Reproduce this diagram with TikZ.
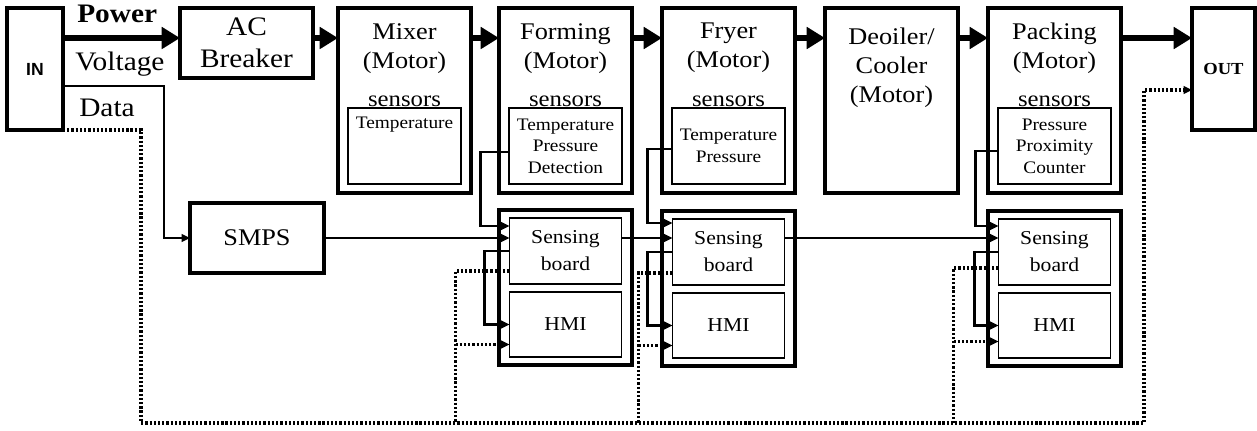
\documentclass[tikz,border=0pt]{standalone}
\usepackage{fontspec}
\setmainfont[FakeStretch=1.1]{Liberation Serif}
\newfontfamily\insans{Liberation Sans}
\usepackage{tikz}
\usetikzlibrary{arrows.meta,positioning,calc}

\begin{document}
\begin{tikzpicture}[
    node distance=0.75cm,
    box/.style={draw, line width=2.2pt, outer sep=0pt, inner sep=0pt, align=center},
    stage/.style={box, minimum width=3.325cm, minimum height=4.625cm},
    iobox/.style={box, minimum height=3.05cm},
    title/.style={inner sep=0pt, align=center, font=\fontsize{17}{20.6}\selectfont},
    senslbl/.style={inner sep=0pt, font=\fontsize{16}{18}\selectfont},
    sensbox/.style={draw, line width=1.1pt, outer sep=0pt, minimum width=2.825cm,
                minimum height=1.9cm, align=center, font=\fontsize{12.5}{15.3}\selectfont},
    smalltxt/.style={inner sep=0pt, font=\fontsize{12.5}{15.3}\selectfont},
    grp/.style={box, minimum width=3.325cm, minimum height=3.875cm},
    subbox/.style={draw, line width=1.1pt, outer sep=0pt, minimum width=2.8cm,
                minimum height=1.65cm, align=center, font=\fontsize{14}{19.2}\selectfont},
    sidelbl/.style={inner sep=0pt, anchor=base west, font=\fontsize{19}{22}\selectfont},
    fat/.style={-{Triangle[length=13pt,width=15pt]}, line width=3.6pt},
    arr/.style={-{Triangle[length=6pt,width=5.5pt]}, line width=2pt},
    dotline/.style={line width=2.4pt, dash pattern=on 1.6pt off 1.4pt},
    dotarr/.style={dotline, -{Triangle[length=6pt,width=5.5pt]}}
]
\useasboundingbox (0,0) rectangle (31.425,-10.775);

% --- In / out and main line ---
\node[iobox, minimum width=1.4cm, anchor=north west,
      font=\insans\bfseries\fontsize{12.5}{14}\selectfont] (in) at (0.175,-0.2) {IN};
\node[box, minimum width=3.325cm, minimum height=1.75cm,
      font=\fontsize{19}{22.8}\selectfont,
      below right=0cm and 2.925cm of in.north east] (ac) {AC\\Breaker};
\node[stage, below right=0cm and 0.625cm of ac.north east] (mixer) {};
\node[stage, right=0.7cm of mixer] (forming) {};
\node[stage, right=of forming] (fryer) {};
\node[stage, right=of fryer] (deoiler) {};
\node[stage, right=of deoiler] (packing) {};
\node[iobox, minimum width=1.575cm, font=\bfseries\fontsize{12}{14}\selectfont,
      below right=0cm and 1.775cm of packing.north east] (out) {OUT};

% stage titles
\node[title, below=0.375cm of mixer.north] (mixer-t) {Mixer\\(Motor)};
\node[title, below=0.375cm of forming.north] (forming-t) {Forming\\(Motor)};
\node[title, below=0.375cm of fryer.north] (fryer-t) {Fryer\\(Motor)};
\node[title, below=0.5cm of deoiler.north] (deoiler-t) {Deoiler/\\Cooler\\(Motor)};
\node[title, below=0.375cm of packing.north] (packing-t) {Packing\\(Motor)};

% sensors inside stages
\node[sensbox, below=2.5cm of mixer.north] (mixer-b) {};
\node[smalltxt, below=0.225cm of mixer-b.north] (mixer-bt) {Temperature};
\node[sensbox, below=2.5cm of forming.north] (forming-b) {Temperature\\Pressure\\Detection};
\node[sensbox, below=2.5cm of fryer.north] (fryer-b) {Temperature\\Pressure};
\node[sensbox, below=2.5cm of packing.north] (packing-b) {Pressure\\Proximity\\Counter};
\node[senslbl, above=1pt of mixer-b] (mixer-s) {sensors};
\node[senslbl, above=1pt of forming-b] (forming-s) {sensors};
\node[senslbl, above=1pt of fryer-b] (fryer-s) {sensors};
\node[senslbl, above=1pt of packing-b] (packing-s) {sensors};

% --- Power supply and boards ---
\node[box, minimum width=3.35cm, minimum height=1.75cm, font=\fontsize{17}{20}\selectfont,
      below right=1.825cm and 3.175cm of in.south east] (smps) {SMPS};

\node[grp, below=0.425cm of forming] (grp1) {};
\node[subbox, below=0.2cm of grp1.north] (sb1) {Sensing\\board};
\node[subbox, below=0.2cm of sb1, minimum height=1.625cm] (hmi1) {HMI};

\node[grp, below=0.45cm of fryer] (grp2) {};
\node[subbox, below=0.2cm of grp2.north] (sb2) {Sensing\\board};
\node[subbox, below=0.2cm of sb2, minimum height=1.625cm] (hmi2) {HMI};

\node[grp, below=0.45cm of packing] (grp3) {};
\node[subbox, below=0.2cm of grp3.north] (sb3) {Sensing\\board};
\node[subbox, below=0.2cm of sb3, minimum height=1.625cm] (hmi3) {HMI};

% --- Line labels ---
\node[sidelbl, font=\bfseries\fontsize{19}{22}\selectfont]
     (power) at ([xshift=0.35cm,yshift=-0.375cm]in.north east) {Power};
\node[sidelbl] (volt) at ([xshift=0.3cm,yshift=-1.56cm]in.north east) {Voltage};
\node[sidelbl] (data) at ([xshift=0.4cm,yshift=-2.725cm]in.north east) {Data};

% --- Main flow ---
\draw[fat] ([yshift=-0.75cm]in.north east) -- ([yshift=-0.75cm]ac.north west);
\draw[fat] ([yshift=-0.75cm]ac.north east) -- ([yshift=-0.75cm]mixer.north west);
\draw[fat] ([yshift=-0.75cm]mixer.north east) -- ([yshift=-0.75cm]forming.north west);
\draw[fat] ([yshift=-0.75cm]forming.north east) -- ([yshift=-0.75cm]fryer.north west);
\draw[fat] ([yshift=-0.75cm]fryer.north east) -- ([yshift=-0.75cm]deoiler.north west);
\draw[fat] ([yshift=-0.75cm]deoiler.north east) -- ([yshift=-0.75cm]packing.north west);
\draw[fat] ([yshift=-0.75cm]packing.north east) -- ([yshift=-0.75cm]out.north west);

% --- Voltage path ---
\draw[arr] ([yshift=-1.95cm]in.north east) -| ([xshift=-0.65cm]smps.west) -- (smps.west);
\draw[arr] (smps) -- (smps -| sb1.west);
\draw[arr] ([yshift=0.325cm]sb1.east) -- ([yshift=0.325cm]sb1.east -| sb2.west);
\draw[arr] ([yshift=0.35cm]sb2.east) -- ([yshift=0.35cm]sb2.east -| sb3.west);

% sensors to boards
\draw[arr] ([yshift=-0.15cm]forming-b.west) -| ([xshift=-0.725cm,yshift=0.625cm]sb1.west) -- ([yshift=0.625cm]sb1.west);
\draw[arr] ([yshift=-0.075cm]fryer-b.west) -| ([xshift=-0.625cm,yshift=0.725cm]sb2.west) -- ([yshift=0.725cm]sb2.west);
\draw[arr] ([yshift=-0.125cm]packing-b.west) -| ([xshift=-0.575cm,yshift=0.65cm]sb3.west) -- ([yshift=0.65cm]sb3.west);

% boards to HMI
\draw[arr] (sb1.west) -| ([xshift=-0.625cm]hmi1.west) -- (hmi1.west);
\draw[arr] (sb2.west) -| ([xshift=-0.625cm]hmi2.west) -- (hmi2.west);
\draw[arr] (sb3.west) -| ([xshift=-0.6cm]hmi3.west) -- (hmi3.west);

% --- Data path (dotted) ---
\draw[dotarr] (in.south east) -| ++(1.95,-7.325) coordinate (bus)
    -| ([xshift=-1.2cm,yshift=-0.525cm]out.west) -- ([yshift=-0.525cm]out.west);

\draw[dotline] ([yshift=-0.5cm]sb1.west) -| ([xshift=-1.35cm]sb1.west |- bus);
\draw[dotarr] ([xshift=-1.35cm,yshift=-0.5cm]hmi1.west) -- ([yshift=-0.5cm]hmi1.west);
\draw[dotline] ([yshift=-0.525cm]sb2.west) -| ([xshift=-0.85cm]sb2.west |- bus);
\draw[dotarr] ([xshift=-0.85cm,yshift=-0.5cm]hmi2.west) -- ([yshift=-0.5cm]hmi2.west);
\draw[dotline] ([yshift=-0.4cm]sb3.west) -| ([xshift=-1.125cm]sb3.west |- bus);
\draw[dotarr] ([xshift=-1.125cm,yshift=-0.4cm]hmi3.west) -- ([yshift=-0.4cm]hmi3.west);

\end{tikzpicture}
\end{document}
